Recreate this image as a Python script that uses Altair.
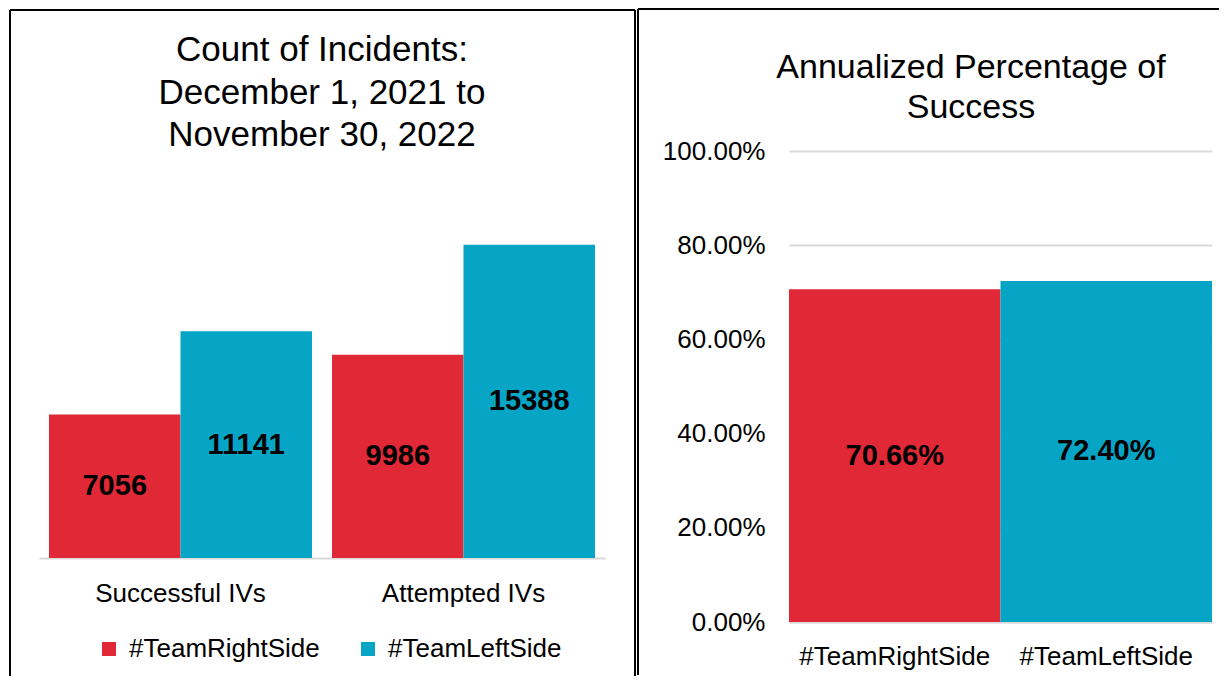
import altair as alt
import pandas as pd

# ---- data ----
categories = ["Successful IVs", "Attempted IVs"]
teams = ["#TeamRightSide", "#TeamLeftSide"]
right_side_counts = [7056, 9986]
left_side_counts = [11141, 15388]
success_pct = [0.7066, 0.7240]
colors = ["#E02836", "#07A5C5"]
left_title = ["Count of Incidents:", "December 1, 2021 to", "November 30, 2022"]
right_title = ["Annualized Percentage of", "Success"]

counts_df = pd.DataFrame({
    "category": categories * 2,
    "team": [teams[0]] * 2 + [teams[1]] * 2,
    "count": right_side_counts + left_side_counts,
})
pct_df = pd.DataFrame({"team": teams, "pct": success_pct})
one_row = pd.DataFrame({"k": [0]})

FONT = "Liberation Sans"
LW, LH = 566, 407
RW, RH = 423, 471
BORDER = "#000000"

color_scale = alt.Scale(domain=teams, range=colors)


def rule(x, y, x2=None, y2=None):
    enc = {"x": alt.value(x), "y": alt.value(y)}
    if x2 is not None:
        enc["x2"] = alt.value(x2)
    if y2 is not None:
        enc["y2"] = alt.value(y2)
    return alt.Chart(one_row).mark_rule(color=BORDER, strokeWidth=2).encode(**enc)


# ---- left panel ----
base_l = alt.Chart(counts_df).encode(
    x=alt.X(
        "category:N", sort=categories,
        scale=alt.Scale(paddingInner=0.0707, paddingOuter=0.0353),
        axis=alt.Axis(title=None, labelAngle=0, labelFontSize=26, labelColor="#000000",
                      labelFont=FONT, labelLimit=0, ticks=False, tickSize=0, labelPadding=22,
                      domainColor="#D9D9D9", domainWidth=2, grid=False),
    ),
    xOffset=alt.XOffset("team:N", sort=teams, scale=alt.Scale(paddingInner=0, paddingOuter=0)),
)
bars_l = base_l.mark_bar().encode(
    y=alt.Y("count:Q", scale=alt.Scale(domain=[0, 20000]), axis=None),
    color=alt.Color(
        "team:N", sort=teams, scale=color_scale,
        legend=alt.Legend(title=None, orient="none", legendX=57, legendY=485,
                          direction="horizontal", symbolType="square", symbolSize=196,
                          symbolStrokeWidth=0, labelFontSize=26, labelFont=FONT, labelLimit=0,
                          labelColor="#000000", labelOffset=7, columnPadding=35, padding=0),
    ),
)
labels_l = base_l.mark_text(fontSize=29, fontWeight="bold", font=FONT, color="#000000",
                            baseline="middle").transform_calculate(
    mid="datum.count / 2"
).encode(
    y=alt.Y("mid:Q", scale=alt.Scale(domain=[0, 20000]), axis=None),
    text=alt.Text("count:Q", format="d"),
)
title_l = alt.Chart(one_row).mark_text(
    text=left_title, fontSize=35, font=FONT, color="#000000", align="center",
    baseline="alphabetic", lineHeight=42.5,
).encode(x=alt.value(283), y=alt.value(-90))

left = alt.layer(
    bars_l, labels_l, title_l,
    rule(-29, -141, x2=596), rule(-29, -141, y2=525), rule(596, -141, y2=525),
).properties(width=LW, height=LH)

# ---- right panel ----
base_r = alt.Chart(pct_df).encode(
    x=alt.X(
        "team:N", sort=teams, scale=alt.Scale(paddingInner=0, paddingOuter=0),
        axis=alt.Axis(title=None, labelAngle=0, labelFontSize=26, labelColor="#000000",
                      labelFont=FONT, labelLimit=0, ticks=False, tickSize=0, labelPadding=21,
                      domainColor="#D9D9D9", domainWidth=2, grid=False),
    ),
)
bars_r = base_r.mark_bar().encode(
    y=alt.Y("pct:Q", scale=alt.Scale(domain=[0, 1]),
            axis=alt.Axis(title=None, format=".2%", values=[0, 0.2, 0.4, 0.6, 0.8, 1.0],
                          labelFontSize=26, labelFont=FONT, labelColor="#000000",
                          labelPadding=24, domain=False, ticks=False, tickSize=0,
                          gridColor="#D9D9D9", gridWidth=2)),
    color=alt.Color("team:N", sort=teams, scale=color_scale, legend=None),
)
labels_r = base_r.mark_text(fontSize=29, fontWeight="bold", font=FONT, color="#000000",
                            baseline="middle").transform_calculate(
    mid="datum.pct / 2"
).encode(
    y=alt.Y("mid:Q", scale=alt.Scale(domain=[0, 1])),
    text=alt.Text("pct:Q", format=".2%"),
)
title_r = alt.Chart(one_row).mark_text(
    text=right_title, fontSize=34, font=FONT, color="#000000", align="center",
    baseline="alphabetic", lineHeight=40,
).encode(x=alt.value(182), y=alt.value(-73))

right = alt.layer(
    bars_r, labels_r, title_r,
    rule(-151, -142, x2=430), rule(-151, -142, y2=524),
).properties(width=RW, height=RH)

chart = alt.hconcat(left, right, spacing=1).resolve_scale(
    x="independent", y="independent", color="independent"
).properties(
    padding={"left": 1, "top": 0, "right": 0, "bottom": 0},
    background="white",
).configure_view(strokeWidth=0, stroke="transparent")

chart.save("out.html", embed_options={"renderer": "svg", "actions": False})
